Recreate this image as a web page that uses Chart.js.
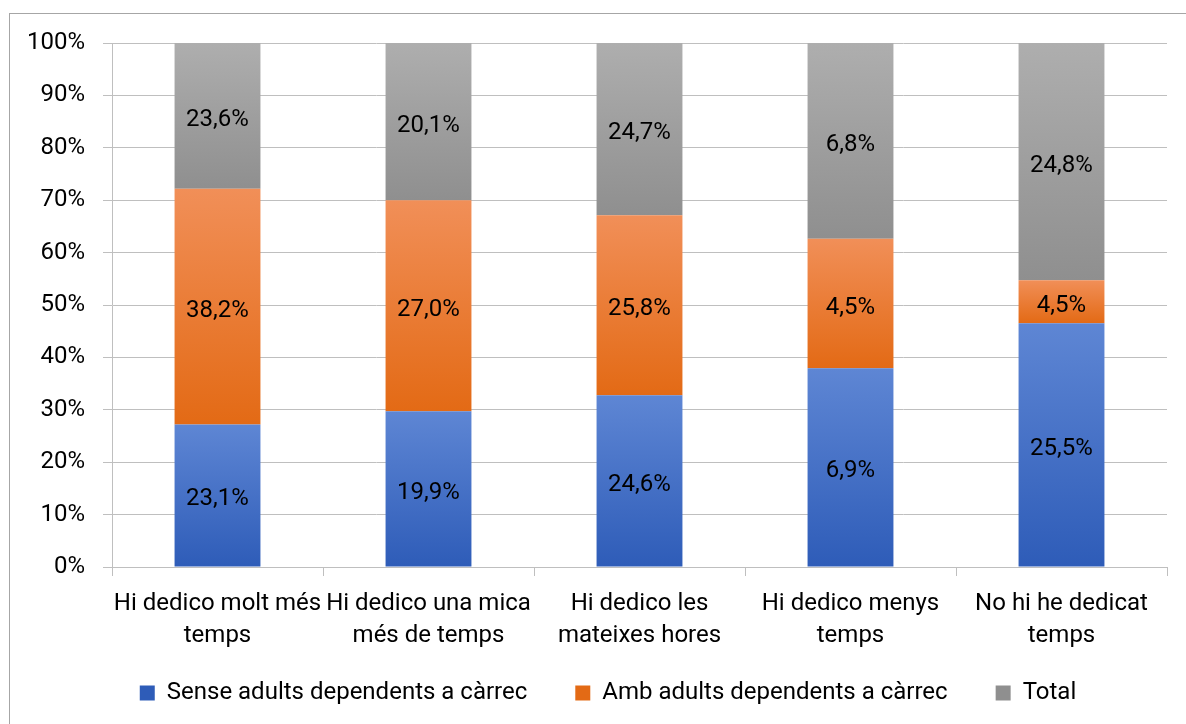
<!DOCTYPE html>
<html><head><meta charset="utf-8">
<script src="https://cdn.jsdelivr.net/npm/chart.js@4/dist/chart.umd.min.js"></script>
<style>html,body{margin:0;padding:0;background:#fff}canvas{display:block}</style>
</head><body>
<canvas id="c" width="1186" height="724"></canvas>
<script>
// ---- data ----
const categories = [
  ["Hi dedico molt més", "temps"],
  ["Hi dedico una mica", "més de temps"],
  ["Hi dedico les", "mateixes hores"],
  ["Hi dedico menys", "temps"],
  ["No hi he dedicat", "temps"]
];
const seriesNames = ["Sense adults dependents a càrrec", "Amb adults dependents a càrrec", "Total"];
const senseValues = [23.1, 19.9, 24.6, 6.9, 25.5];
const ambValues   = [38.2, 27.0, 25.8, 4.5, 4.5];
const totalValues = [23.6, 20.1, 24.7, 6.8, 24.8];
const yTickValues = [0, 10, 20, 30, 40, 50, 60, 70, 80, 90, 100];

// ---- styling ----
const rawSeries = [senseValues, ambValues, totalValues];
const sums = categories.map((_, j) => rawSeries.reduce((s, a) => s + a[j], 0));
const pctSeries = rawSeries.map(a => a.map((v, j) => v / sums[j] * 100));
const gradColors = [
  ['#5E86D4', '#2E5CB8', '#4472C4'],
  ['#F18F58', '#E36A15', '#ED7D31'],
  ['#AEAEAE', '#8F8F8F', '#A5A5A5']
];
const FONT = 'Roboto';
const mctx = document.createElement('canvas').getContext('2d');
mctx.font = '100px ' + FONT;
const FS = Math.round(100 * 360 / mctx.measureText(seriesNames[0]).width * 10) / 10;
const fmt = v => v.toFixed(1).replace('.', ',') + '%';
const GRID = '#BFBFBF';

// do not clip tick labels to their (fixed-size) scale boxes
Chart.Scale.prototype._computeLabelArea = function () { return undefined; };

function barFill(i) {
  return (c) => {
    const mid = gradColors[i][2];
    if (c.type !== 'data') return mid;
    const chart = c.chart, y = chart.scales && chart.scales.y;
    if (!y || !chart.chartArea) return mid;
    const j = c.dataIndex;
    let base = 0;
    for (let k = 0; k < i; k++) base += pctSeries[k][j];
    const top = base + pctSeries[i][j];
    const y0 = y.getPixelForValue(top), y1 = y.getPixelForValue(base);
    if (!isFinite(y0) || !isFinite(y1) || y0 === y1) return mid;
    const g = chart.ctx.createLinearGradient(0, y0, 0, y1);
    g.addColorStop(0, gradColors[i][0]);
    g.addColorStop(1, gradColors[i][1]);
    return g;
  };
}

const LEG_PAD = 48;
const PAD = {top: 43, left: 49, right: 19, bottom: 9};
const legendH = FS + LEG_PAD + 10;

const borderPlugin = {
  id: 'outerBorder',
  beforeDraw(chart) {
    const ctx = chart.ctx;
    ctx.save();
    ctx.fillStyle = '#fff';
    ctx.fillRect(0, 0, chart.width, chart.height);
    ctx.strokeStyle = '#A6A6A6';
    ctx.lineWidth = 1;
    ctx.strokeRect(9.5, 13.5, chart.width + 10, chart.height + 10);
    ctx.restore();
  }
};
const valuePlugin = {
  id: 'values',
  afterDatasetsDraw(chart) {
    const ctx = chart.ctx;
    ctx.save();
    ctx.font = FS + 'px ' + FONT;
    ctx.fillStyle = '#000';
    ctx.textAlign = 'center';
    ctx.textBaseline = 'middle';
    chart.data.datasets.forEach((ds, i) => {
      chart.getDatasetMeta(i).data.forEach((el, j) => {
        ctx.fillText(fmt(rawSeries[i][j]), el.x, (el.y + el.base) / 2 + 4);
      });
    });
    ctx.restore();
  }
};

new Chart(document.getElementById('c'), {
  type: 'bar',
  data: {
    labels: categories,
    datasets: seriesNames.map((name, i) => ({
      label: name,
      data: pctSeries[i],
      backgroundColor: barFill(i),
      borderWidth: 0,
      barPercentage: 0.407,
      categoryPercentage: 1
    }))
  },
  options: {
    responsive: false,
    animation: false,
    devicePixelRatio: 1,
    layout: {padding: PAD},
    plugins: {
      legend: {
        position: 'bottom',
        labels: {
          boxWidth: 15, boxHeight: 15, padding: LEG_PAD, color: '#000',
          font: {family: FONT, size: FS}
        }
      },
      tooltip: {enabled: false}
    },
    scales: {
      x: {
        stacked: true,
        grid: {offset: true, drawOnChartArea: false, drawTicks: true, tickLength: 9, color: GRID},
        border: {color: GRID},
        ticks: {color: '#000', padding: 12, maxRotation: 0, autoSkip: false,
                font: {family: FONT, size: FS, lineHeight: '32px'}},
        afterFit(s) { s.height = 724 - PAD.bottom - legendH - 567; }
      },
      y: {
        stacked: true, min: 0, max: 100,
        afterBuildTicks(s) { s.ticks = yTickValues.map(v => ({value: v})); },
        grid: {color: GRID, tickLength: 9},
        border: {color: GRID},
        ticks: {color: '#000', padding: 18, callback: v => v + '%',
                font: {family: FONT, size: FS}},
        afterFit(s) { s.width = 112 - PAD.left; }
      }
    }
  },
  plugins: [borderPlugin, valuePlugin]
});
</script>
</body></html>
